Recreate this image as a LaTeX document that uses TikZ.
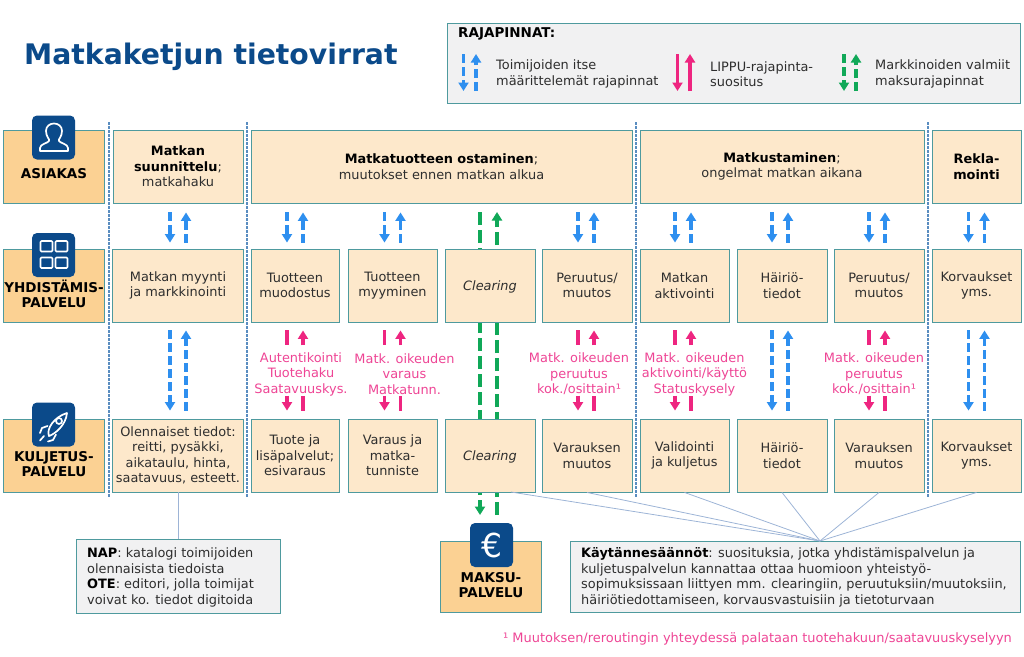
\documentclass[tikz,border=0pt]{standalone}
\usepackage{fontspec}
\setmainfont{DejaVu Sans}
\usetikzlibrary{arrows.meta,calc}
\definecolor{tealline}{HTML}{4E9A9E}
\definecolor{lightbox}{HTML}{FDE8CB}
\definecolor{darkbox}{HTML}{FBD193}
\definecolor{greybox}{HTML}{F1F1F2}
\definecolor{navy}{HTML}{0B4A8A}
\definecolor{bluearrow}{HTML}{2E8FEF}
\definecolor{pinkarrow}{HTML}{EE2580}
\definecolor{pinktext}{HTML}{EE4595}
\definecolor{greenarrow}{HTML}{10A858}
\definecolor{sepline}{HTML}{5A8DC0}
\definecolor{thinline}{HTML}{9DB4D6}
\definecolor{bodytext}{HTML}{2E2E2E}
\tikzset{
  txt/.style={font=\fontsize{12.9}{15.5}\selectfont,text=bodytext},
  cellbox/.style={draw=tealline,line width=.9pt,fill=lightbox,inner sep=0pt,align=center,txt,execute at begin node=\rule{0pt}{13pt}},
  sidebox/.style={draw=tealline,line width=.9pt,fill=darkbox,inner sep=0pt,minimum width=101pt},
  sidetxt/.style={inner sep=0pt,font=\fontsize{13.5}{15.4}\selectfont\bfseries,align=center},
  notebox/.style={draw=tealline,line width=.9pt,fill=greybox,inner sep=0pt},
  iconbox/.style={fill=navy,rounded corners=5pt,minimum width=43pt,minimum height=44pt,inner sep=0pt},
  icon/.style={draw=white,line width=1.7pt,line join=round,line cap=round},
  pinklabel/.style={align=center,text=pinktext,font=\fontsize{12.9}{15.5}\selectfont,inner sep=0pt},
  arr/.style={line width=3.2pt,-{Triangle[width=10pt,length=8.5pt]}},
  bluearr/.style={arr,bluearrow,dash pattern=on 9pt off 4pt},
  greenarr/.style={arr,greenarrow,dash pattern=on 13pt off 5pt},
  pinkarr/.style={arr,pinkarrow},
  stub/.style={line width=3.4pt,pinkarrow},
  sep/.style={sepline,line width=1.2pt,dash pattern=on 2.5pt off 1.5pt},
  thin/.style={thinline,line width=.8pt}
}
\begin{document}
\begin{tikzpicture}[x=1pt,y=-1pt]
\useasboundingbox (0,0) rectangle (1024,656);
\node[anchor=west,text=navy,font=\fontsize{28.3}{30}\selectfont\bfseries,inner sep=0pt] (title) at (24,56.5) {Matkaketjun tietovirrat};

% legend
\node[notebox,minimum width=573pt,minimum height=80pt] (legend) at (734,63) {};
\node[anchor=west,inner sep=0pt,font=\fontsize{13.5}{15.4}\selectfont\bfseries] (legendtitle) at (458,33.5) {RAJAPINNAT:};
\node[anchor=west,inner sep=0pt,align=left,txt] (legendblue) at (496,74) {Toimijoiden itse\\määrittelemät rajapinnat};
\node[anchor=west,inner sep=0pt,align=left,txt] (legendpink) at (710,74) {LIPPU-rajapinta-\\suositus};
\node[anchor=west,inner sep=0pt,align=left,txt] (legendgreen) at (875,74) {Markkinoiden valmiit\\maksurajapinnat};
\draw[bluearr] (463.5,54) -- (463.5,91);
\draw[bluearr] (476,91) -- (476,54);
\draw[pinkarr] (677.5,54) -- (677.5,91);
\draw[pinkarr] (690,91) -- (690,54);
\draw[greenarr,dash pattern=on 9pt off 4pt] (844,54) -- (844,91);
\draw[greenarr,dash pattern=on 9pt off 4pt] (856,91) -- (856,54);

% separators
\foreach \x in {109,247,636,928}\draw[sep] (\x,122) -- (\x,497);

% payment flow runs behind the clearing boxes
\coordinate (greentopl) at (480,212);
\coordinate (greenbotl) at (480,515);
\coordinate (greentopr) at (497,212);
\coordinate (greenbotr) at (497,515);
\draw[greenarr] (greentopl) -- (greenbotl);
\draw[greenarr] (greenbotr) -- (greentopr);

% side boxes
\node[sidebox,minimum height=73pt] (asiakas) at (53.5,166.5) {};
\node[sidebox,minimum height=73pt] (yhdist) at (53.5,285.5) {};
\node[sidebox,minimum height=73pt] (kuljetus) at (53.5,455.5) {};
\node[sidebox,minimum height=71pt] (maksu) at (490.5,576.5) {};
\node[sidetxt] (asiakastxt) at (54,174) {ASIAKAS};
\node[sidetxt] (yhdisttxt) at (54,294) {YHDISTÄMIS-\\PALVELU};
\node[sidetxt] (kuljetustxt) at (54,464) {KULJETUS-\\PALVELU};
\node[sidetxt] (maksutxt) at (491,585) {MAKSU-\\PALVELU};

% top row
\node[cellbox,minimum width=130pt,minimum height=73pt] (suunn) at (178,166.5) {\textbf{\textcolor{black}{Matkan}}\\\textbf{\textcolor{black}{suunnittelu}};\\matkahaku};
\node[cellbox,minimum width=381pt,minimum height=73pt] (osto) at (441.5,166.5) {\textbf{\textcolor{black}{Matkatuotteen ostaminen}};\\muutokset ennen matkan alkua};
\node[cellbox,minimum width=284pt,minimum height=73pt] (matka) at (782,166.5) {\textbf{\textcolor{black}{Matkustaminen}};\\ongelmat matkan aikana};
\node[cellbox,minimum width=89pt,minimum height=73pt] (rekla) at (976.5,166.5) {\textbf{\textcolor{black}{Rekla-}}\\\textbf{\textcolor{black}{mointi}}};

% middle and bottom rows
\foreach \name/\x/\w/\mid/\low in {
  a/178/131/{Matkan myynti\\ja markkinointi}/{Olennaiset tiedot:\\reitti, pysäkki,\\aikataulu, hinta,\\saatavuus, esteett.},
  b/295/88/{Tuotteen\\muodostus}/{Tuote ja\\lisäpalvelut;\\esivaraus},
  c/392.5/89/{Tuotteen\\myyminen}/{Varaus ja\\matka-\\tunniste},
  d/490/90/{\textit{Clearing}}/{\textit{Clearing}},
  e/587/90/{Peruutus/\\muutos}/{Varauksen\\muutos},
  f/684.5/89/{Matkan\\aktivointi}/{Validointi\\ja kuljetus},
  g/782/90/{Häiriö-\\tiedot}/{Häiriö-\\tiedot},
  h/879/90/{Peruutus/\\muutos}/{Varauksen\\muutos},
  i/976.5/89/{Korvaukset\\yms.}/{Korvaukset\\yms.}}{
  \node[cellbox,minimum width=\w pt,minimum height=73pt] (mid\name) at (\x,285.5) {\mid};
  \node[cellbox,minimum width=\w pt,minimum height=73pt] (low\name) at (\x,455.5) {\low};
}

% blue arrows top row to middle row
\foreach \upper/\name/\d in {suunn/a/0,osto/b/0,osto/c/0,osto/e/-1,matka/f/-1.5,matka/g/-2,matka/h/-2,rekla/i/0}{
  \draw[bluearr] ($(mid\name.north |- \upper.south)+(\d-8,9)$) -- ($(mid\name.north)+(\d-8,-6)$);
  \draw[bluearr] ($(mid\name.north)+(\d+8,-6)$) -- ($(mid\name.north |- \upper.south)+(\d+8,9)$);
}
% long blue arrows
\foreach \name/\d in {a/0,g/-2,i/0}{
  \draw[bluearr] ($(mid\name.south)+(\d-8,8)$) -- ($(low\name.north)+(\d-8,-8)$);
  \draw[bluearr] ($(low\name.north)+(\d+8,-8)$) -- ($(mid\name.south)+(\d+8,8)$);
}
% pink arrows with a label between
\foreach \name/\d/\off/\lab in {
  b/0/6/{Autentikointi\\Tuotehaku\\Saatavuuskys.},
  c/0/12/{Matk. oikeuden\\varaus\\Matkatunn.},
  e/-1/-8/{Matk. oikeuden\\peruutus\\kok./osittain¹},
  f/-1.5/10/{Matk. oikeuden\\aktivointi/käyttö\\Statuskysely},
  h/-2/-5/{Matk. oikeuden\\peruutus\\kok./osittain¹}}{
  \node[pinklabel] (lab\name) at ($(mid\name)!.5!(low\name)+(\off,3.5)$) {\lab};
  \draw[stub] ($(mid\name.south)+(\d-8,8)$) -- ++(0,15);
  \draw[pinkarr] ($(mid\name.south)+(\d+8,23)$) -- ($(mid\name.south)+(\d+8,8)$);
  \draw[pinkarr] ($(low\name.north)+(\d-8,-23)$) -- ($(low\name.north)+(\d-8,-8)$);
  \draw[stub] ($(low\name.north)+(\d+8,-8)$) -- ++(0,-15);
}

% notes
\node[notebox,minimum width=204pt,minimum height=74pt] (nap) at (178,576) {};
\node[anchor=west,inner sep=0pt,align=left,txt] (naptxt) at (87,577.5) {\textbf{\textcolor{black}{NAP}}: katalogi toimijoiden\\olennaisista tiedoista\\\textbf{\textcolor{black}{OTE}}: editori, jolla toimijat\\voivat ko. tiedot digitoida};
\node[notebox,minimum width=450pt,minimum height=71pt] (kayt) at (795,576.5) {};
\node[anchor=west,inner sep=0pt,align=left,txt] (kayttxt) at (581,577.5) {\textbf{\textcolor{black}{Käytännesäännöt}}: suosituksia, jotka yhdistämispalvelun ja\\kuljetuspalvelun kannattaa ottaa huomioon yhteistyö-\\sopimuksissaan liittyen mm. clearingiin, peruutuksiin/muutoksiin,\\häiriötiedottamiseen, korvausvastuisiin ja tietoturvaan};
\node[anchor=east,inner sep=0pt,text=pinktext,font=\fontsize{12.95}{15}\selectfont] (footnote) at (1012,639) {¹ Muutoksen/reroutingin yhteydessä palataan tuotehakuun/saatavuuskyselyyn};

% thin connectors
\coordinate (kayttop) at (820,541);
\coordinate (clearfoot) at (511,492);
\draw[thin] (lowa.south) -- (nap.north);
\draw[thin] (clearfoot) -- (kayttop);
\foreach \name in {e,f,g,h,i}\draw[thin] (low\name.south) -- (kayttop);

% icons
\node[iconbox] (iconasiakas) at (53.5,137.5) {};
\node[iconbox] (iconyhdist) at (53.5,255) {};
\node[iconbox] (iconkuljetus) at (53.5,424.5) {};
\node[iconbox,text=white,font=\fontsize{33}{33}\selectfont] (iconmaksu) at (491.5,545) {€};
\draw[icon] (40,151) -- (68,151) -- (68,148) .. controls (68,144) and (60,143) .. (59,141) .. controls (58,139) and (62,137) .. (62,131) .. controls (62,126) and (58,123.5) .. (54,123.5) .. controls (50,123.5) and (46,126) .. (46,131) .. controls (46,137) and (50,139) .. (49,141) .. controls (48,143) and (40,144) .. (40,148) -- cycle;
\foreach \x in {40.5,55.5}\foreach \y in {241,257.5}
  \draw[icon,rounded corners=1pt] (\x,\y) rectangle ++(12,10.5);
\draw[icon] (49,436) .. controls (46,429) and (54,417) .. (67,413) .. controls (66,425) and (55,434) .. (49,436) -- cycle;
\draw[icon] (59,421) circle (3);
\draw[icon] (47.5,426) -- (42,428) -- (40,433);
\draw[icon] (56,434.5) -- (53,440) -- (48,441.5);
\draw[icon] (44,436) -- (40,440.5);
\end{tikzpicture}
\end{document}
